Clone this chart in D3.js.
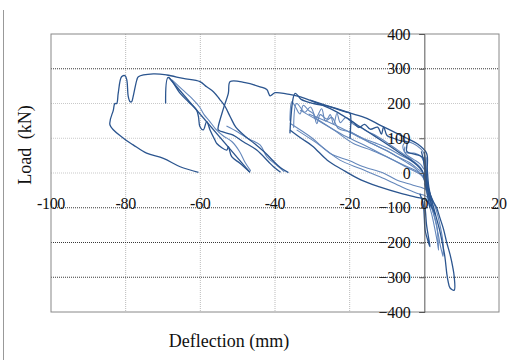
<!DOCTYPE html>
<html>
<head>
<meta charset="utf-8">
<script src="https://cdn.jsdelivr.net/npm/d3@7"></script>
<style>
  html, body { margin: 0; padding: 0; background: #fff; }
  svg { display: block; }
</style>
</head>
<body>
<div id="chart"></div>
<script>
// axis ticks
const xTicks = [-100, -80, -60, -40, -20, 0, 20];
const yTicks = [400, 300, 200, 100, 0, -100, -200, -300, -400];
const darkGridY = [300, -100, -200, -300];

// hysteresis branches, [deflection mm, load kN]
const outerLoop = [[-60.5,2],[-65.4,18],[-69.9,42],[-74.4,57],[-78,81],[-80.6,100],[-84.2,138],[-83.3,181],
  [-82.9,200],[-82.4,200],[-82,229],[-81.1,277],[-80.2,280],[-79.7,268],[-79.3,220],[-78.8,205],[-78.4,205],
  [-78,220],[-77,268],[-76.6,277],[-72.6,285],[-69,282],[-64.6,272],[-60.1,263],[-58.3,248],[-56.5,234],
  [-54.8,212],[-53.4,192],[-52,162],[-50.5,132],[-48,106],[-45.5,85],[-42.5,57],[-40.5,35],[-38.5,15],[-36.4,1]];
const spikeLoop = [[-46.7,2],[-49.4,28],[-51.6,47],[-52.5,76],[-52.9,66],[-55.6,85],[-56.1,95],[-57.4,124],
  [-58.3,148],[-59.2,124],[-60.1,133],[-60.5,162],[-61,181],[-63.2,205],[-65.4,229],[-68.6,275],[-69.3,200]];
const spikeDrop = [[-68.4,274],[-46.7,2]];
const spikeSide = [[-67.6,268],[-64.8,240],[-62,212],[-60.2,190],[-59,168],[-57.6,150],[-56,128],[-54,108],
  [-51.5,90],[-49.5,62],[-48,30],[-46.5,6]];
const loop3 = [[-38.5,2],[-40.4,18],[-41.8,33],[-44.9,66],[-48.5,90],[-51.2,109],[-55.2,124],[-55.2,133],
  [-53.8,186],[-52.5,229],[-52,263],[-48,260],[-44,248],[-42.2,240],[-41.3,222],[-40,231],[-37,228],
  [-35.1,224],[-32,215],[-27.5,196],[-23.5,176],[-20.3,155],[-17.2,133],[-14,111],[-11,90],[-8.5,72],
  [-6.5,57],[-4,40],[-2,23],[-0.5,5],[0,-20],[0.6,-50]];
const loop3b = [[-37.5,3],[-39.5,22],[-42.2,47],[-44,81],[-47,98],[-50,118],[-53,135]];
const midUpper = [[-36,114],[-34.6,229],[-33,212],[-29.7,200],[-25.3,191],[-20.8,176],[-19.9,172],[-19.9,100],
  [-19.4,148],[-17.6,131],[-16,140],[-14.5,126],[-12.5,132],[-11.5,112],[-10.9,133],[-10,108],[-8.3,100],
  [-6,92],[-4.7,90],[-4.7,62],[-3,55],[-1.2,50],[0,40],[0.3,0],[0.8,-40],[1.5,-80]];
const midDark = [[-30.6,210],[-22.6,181],[-19.9,172],[-15.4,157],[-11.9,138],[-8.3,119],[-4.7,100],[-2,85],
  [0.6,57],[0.8,10],[1.2,-40],[2,-80]];
const midSpiky = [[-36,150],[-35.5,205],[-34.5,190],[-33.3,170],[-32.4,195],[-31,180],[-29.7,170],[-28.8,142],
  [-27.9,168],[-26.1,155],[-25.2,168],[-24.3,140],[-23.4,172],[-22.5,145],[-21,160],[-19,140],[-17,130],
  [-15,118],[-13,108],[-11,95],[-9,80],[-7,65],[-5,50],[-3,35],[-1,15],[0.5,-30],[1.2,-70]];
const midSpiky2 = [[-35,130],[-34.2,200],[-32,175],[-30.5,190],[-29,160],[-27.5,185],[-26.5,150],[-24.8,160],
  [-23,128],[-20,118],[-16.5,100],[-13,86],[-9.5,70],[-6.5,52],[-3.5,35],[-1.5,20],[0.2,-15],[1,-55]];
const midBand1 = [[-36,143],[-30,100],[-25.3,57],[-20,35],[-16.3,18],[-11,0],[-7.4,-20],[-3,-35],[0.6,-49],[2,-80]];
const midBand2 = [[-34.2,124],[-28,80],[-22.6,37],[-17,12],[-11.9,-11],[-6,-40],[-2,-58],[0.6,-68],[2.5,-100]];
const midBand3 = [[-33.3,181],[-27,142],[-20.8,104],[-16,80],[-11.9,57],[-6,25],[-1.2,-1],[0.5,-30],[1.5,-60]];
const midBand4 = [[-29.7,162],[-24,122],[-19,85],[-14,65],[-10.1,47],[-5,18],[-0.3,-11],[1,-45]];
const midBand5 = [[-36,124],[-33,100],[-30,78],[-26,37],[-22,10],[-17,-20],[-12,-40],[-6.5,-58],[-2,-70],
  [0,-75],[1.5,-90],[3,-120]];
const midBand6 = [[-31,170],[-26,148],[-22,128],[-18,106],[-14,84],[-10,64],[-7,46],[-4,30],[-2,14],[0,-5],[1,-30]];
const midBand7 = [[-20,120],[-16,96],[-12,74],[-8,52],[-5,32],[-2.5,14],[-0.5,-8],[0.8,-38]];
const nearZero = [[-5.2,76],[-5.2,60],[-3.8,57],[-2.5,57],[-1.2,50],[-0.3,37],[0,10],[-1,25],[-3,40],
  [-5,55],[-5.7,80],[-4.7,90],[-3,85],[-1,70],[0,55],[0.3,20]];
const band0a = [[-0.8,62],[-0.3,40],[0,20],[0.2,0],[0.4,-30],[0.8,-60],[1.5,-100]];
const band0b = [[0,60],[0.2,30],[0.5,0],[0.8,-30],[1.2,-60],[2,-95]];
const band0c = [[0.5,45],[0.6,0],[1.2,-50],[2,-90],[2.8,-120]];
const negLoop1 = [[0.3,-20],[1.2,-50],[2.3,-80],[3.3,-100],[4.2,-130],[5.1,-160],[6,-200],[6.9,-235],
  [7.6,-270],[8,-298],[8,-337],[6.9,-331],[6.3,-308],[6,-288],[5.5,-241],[4.8,-200],[4,-160],[3,-120],
  [2,-80],[1,-40],[0,0]];
const negLoop2 = [[0.2,-10],[1.5,-60],[3,-100],[4.2,-150],[5,-200],[5,-240],[4.9,-236],[4.3,-210],
  [3.8,-180],[3,-140],[2,-100],[1,-60]];
const negLoop3 = [[0,-30],[1,-70],[2.3,-110],[3.3,-150],[3.8,-222],[3.5,-200],[2.8,-160],[2,-120],[1,-80]];
const negSpike = [[-1.2,-60],[-0.3,-90],[0,-130],[0.2,-164],[1.1,-200],[1.5,-212],[1.2,-190],[0.6,-150],
  [0.3,-110],[0,-80]];

const darkSeries = [outerLoop, spikeLoop, spikeDrop, loop3, midUpper, midDark, midBand5, negLoop1, negSpike, band0a, band0b];
const lightSeries = [spikeSide, loop3b, midSpiky, midSpiky2, midBand1, midBand2, midBand3, midBand4, midBand6,
  midBand7, nearZero, band0c, negLoop2, negLoop3];

const W = 513, H = 360;
const margin = { top: 34, right: 14, bottom: 48, left: 51 };
const innerW = W - margin.left - margin.right;
const innerH = H - margin.top - margin.bottom;
const serif = '"Liberation Serif", "Times New Roman", serif';

const svg = d3.select('#chart').append('svg')
  .attr('width', W).attr('height', H);

// page edge line on the left
svg.append('line').attr('x1', 3.5).attr('x2', 3.5).attr('y1', 10).attr('y2', H)
  .attr('stroke', '#999').attr('stroke-width', 1);

const g = svg.append('g').attr('transform', `translate(${margin.left},${margin.top})`);

const x = d3.scaleLinear().domain([-100, 20]).range([0, innerW]);
const y = d3.scaleLinear().domain([-400, 400]).range([innerH, 0]);

// grid
g.selectAll('.vgrid').data(xTicks.filter(d => d > -100 && d < 20 && d !== 0)).join('line')
  .attr('x1', d => x(d)).attr('x2', d => x(d)).attr('y1', 0).attr('y2', innerH)
  .attr('stroke', '#aaa').attr('stroke-width', 0.8).attr('stroke-dasharray', '1,1');
g.selectAll('.hgrid').data(yTicks.filter(d => d > -400 && d < 400)).join('line')
  .attr('x1', 0).attr('x2', innerW).attr('y1', d => y(d)).attr('y2', d => y(d))
  .attr('stroke', d => darkGridY.includes(d) ? '#222' : '#bbb')
  .attr('stroke-width', d => darkGridY.includes(d) ? 0.9 : 0.8)
  .attr('stroke-dasharray', '1,1');

g.append('rect').attr('width', innerW).attr('height', innerH)
  .attr('fill', 'none').attr('stroke', '#888').attr('stroke-width', 1);

// curves
const line = d3.line().x(d => x(d[0])).y(d => y(d[1])).curve(d3.curveCatmullRom.alpha(0.5));
g.selectAll('.light').data(lightSeries).join('path')
  .attr('d', line).attr('fill', 'none')
  .attr('stroke', '#6487bb').attr('stroke-width', 1.1).attr('stroke-linejoin', 'round');
g.selectAll('.dark').data(darkSeries).join('path')
  .attr('d', line).attr('fill', 'none')
  .attr('stroke', '#2b558f').attr('stroke-width', 1.3).attr('stroke-linejoin', 'round');

// y axis through zero
const yAxisG = g.append('g').attr('transform', `translate(${x(0)},0)`)
  .call(d3.axisLeft(y).tickValues(yTicks).tickSize(5).tickPadding(9).tickFormat(d3.format('d')));
yAxisG.select('.domain').attr('stroke', '#555');
yAxisG.selectAll('line').attr('stroke', '#555');
yAxisG.selectAll('text').attr('fill', '#111').attr('font-size', 16)
  .attr('font-family', serif).attr('letter-spacing', -0.3);

// x tick labels, placed just below zero
g.selectAll('.xlab').data(xTicks).join('text')
  .attr('x', d => x(d)).attr('y', y(-100) + 1)
  .attr('text-anchor', 'middle').attr('fill', '#111').attr('font-size', 16)
  .attr('font-family', serif).attr('letter-spacing', -0.3)
  .text(d => d);

// axis titles
svg.append('text').attr('x', 229).attr('y', 347).attr('text-anchor', 'middle')
  .attr('font-size', 18).attr('fill', '#111')
  .attr('font-family', serif).text('Deflection (mm)');
svg.append('text').attr('transform', 'translate(31,145) rotate(-90)').attr('text-anchor', 'middle')
  .attr('font-size', 18).attr('fill', '#111').attr('word-spacing', 4)
  .attr('font-family', serif).text('Load (kN)');
</script>
</body>
</html>
